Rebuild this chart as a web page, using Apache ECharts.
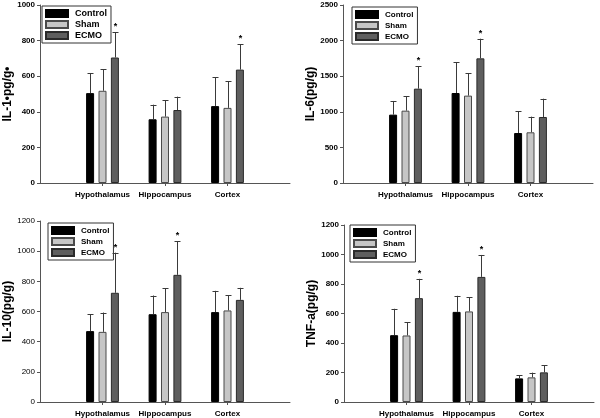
<!DOCTYPE html>
<html>
<head>
<meta charset="utf-8">
<script src="https://cdn.jsdelivr.net/npm/echarts@6/dist/echarts.min.js"></script>
<style>html,body{margin:0;padding:0;background:#fff}#c{width:600px;height:418px}</style>
</head>
<body>
<div id="c"></div>
<script>
// ---- data ----
const categories = ['', 'Hypothalamus', 'Hippocampus', 'Cortex', ''];
const groups = ['Control', 'Sham', 'ECMO'];

// IL-1
const il1Control = [505, 358, 432];
const il1ControlUpper = [618, 440, 595];
const il1Sham = [518, 373, 422];
const il1ShamUpper = [640, 465, 573];
const il1Ecmo = [705, 410, 637];
const il1EcmoUpper = [848, 485, 780];
const il1EcmoSig = [1, 0, 1];

// IL-6
const il6Control = [960, 1264, 702];
const il6ControlUpper = [1152, 1695, 1007];
const il6Sham = [1016, 1227, 712];
const il6ShamUpper = [1217, 1545, 932];
const il6Ecmo = [1325, 1751, 927];
const il6EcmoUpper = [1643, 2027, 1184];
const il6EcmoSig = [1, 1, 0];

// IL-10
const il10Control = [470, 582, 596];
const il10ControlUpper = [582, 706, 737];
const il10Sham = [465, 596, 607];
const il10ShamUpper = [593, 754, 708];
const il10Ecmo = [724, 843, 677];
const il10EcmoUpper = [990, 1065, 757];
const il10EcmoSig = [1, 1, 0];

// TNF-a
const tnfControl = [453, 611, 160];
const tnfControlUpper = [632, 720, 180];
const tnfSham = [451, 614, 167];
const tnfShamUpper = [539, 711, 199];
const tnfEcmo = [704, 848, 201];
const tnfEcmoUpper = [835, 997, 250];
const tnfEcmoSig = [1, 1, 0];

const yTitles = ['IL-1\u2022pg/g\u2022', 'IL-6(pg/g)', 'IL-10(pg/g)', 'TNF-a(pg/g)'];
const yMax = [1000, 2500, 1200, 1200];
const yInterval = [200, 500, 200, 200];

const panels = [
  {c: il1Control, cu: il1ControlUpper, s: il1Sham, su: il1ShamUpper, e: il1Ecmo, eu: il1EcmoUpper, sig: il1EcmoSig},
  {c: il6Control, cu: il6ControlUpper, s: il6Sham, su: il6ShamUpper, e: il6Ecmo, eu: il6EcmoUpper, sig: il6EcmoSig},
  {c: il10Control, cu: il10ControlUpper, s: il10Sham, su: il10ShamUpper, e: il10Ecmo, eu: il10EcmoUpper, sig: il10EcmoSig},
  {c: tnfControl, cu: tnfControlUpper, s: tnfSham, su: tnfShamUpper, e: tnfEcmo, eu: tnfEcmoUpper, sig: tnfEcmoSig}
];

// ---- layout / style ----
const FONT = 'Liberation Sans, Arial, sans-serif';
const gridPos = [
  {left: 40, top: 5, width: 250, height: 178},
  {left: 343, top: 5, width: 250, height: 178},
  {left: 40, top: 221, width: 250, height: 181},
  {left: 344, top: 225, width: 250, height: 177}
];
const legendPos = [
  {left: 42, top: 6},
  {left: 352, top: 7},
  {left: 48, top: 223},
  {left: 350, top: 225}
];
const nameGaps = [25, 26, 26, 24];
const tickBold = ['bold', 'bold', 'normal', 'bold'];
const BAR_W = 8;
const BAR_GAP = 0.55;
const styles = [
  {color: '#000000', borderColor: '#000000', borderWidth: 1},
  {color: '#c6c6c6', borderColor: '#4a4a4a', borderWidth: 1},
  {color: '#5e5e5e', borderColor: '#2a2a2a', borderWidth: 1}
];

function pad(arr) { return [null].concat(arr).concat([null]); }

const option = {
  animation: false,
  backgroundColor: '#fff',
  grid: gridPos.map(g => Object.assign({containLabel: false}, g)),
  legend: legendPos.map((p, i) => ({
    left: p.left, top: p.top, orient: 'vertical',
    data: groups.map(n => ({name: n, icon: 'rect'})),
    itemWidth: 22, itemHeight: 7, itemGap: 2,
    borderColor: '#333', borderWidth: 1, padding: [3, 4, 3, 3],
    selectedMode: false,
    textStyle: {fontFamily: FONT, fontWeight: 'bold', fontSize: i === 0 ? 9 : 8, color: '#000', padding: [0, 0, 0, 2]}
  })),
  xAxis: gridPos.map((g, i) => ({
    gridIndex: i, type: 'category', data: categories, boundaryGap: false,
    axisLine: {lineStyle: {color: '#555', width: 1}},
    axisTick: {show: true, length: 3, interval: (idx) => idx >= 1 && idx <= 3, lineStyle: {color: '#555'}},
    axisLabel: {interval: 0, margin: 8, fontFamily: FONT, fontWeight: 'bold', fontSize: 8, color: '#000'},
    splitLine: {show: false}
  })),
  yAxis: gridPos.map((g, i) => ({
    gridIndex: i, type: 'value', min: 0, max: yMax[i], interval: yInterval[i],
    name: yTitles[i], nameLocation: 'middle', nameGap: nameGaps[i], nameRotate: 90,
    nameTextStyle: {fontFamily: FONT, fontWeight: 'bold', fontSize: 12, color: '#000'},
    axisLine: {show: true, lineStyle: {color: '#555', width: 1}},
    axisTick: {show: true, length: 3, lineStyle: {color: '#555'}},
    axisLabel: {margin: 5, fontFamily: FONT, fontWeight: tickBold[i], fontSize: 8, color: '#000',
      formatter: (v) => String(v)},
    splitLine: {show: false}
  })),
  series: []
};

function errorSeries(gi, si, means, uppers, sig) {
  const data = means.map((m, k) => [k + 1, m, uppers[k], sig ? sig[k] : 0]);
  return {
    type: 'custom', xAxisIndex: gi, yAxisIndex: gi, z: 5, silent: true,
    data: data,
    renderItem: function (params, api) {
      const x = api.value(0), m = api.value(1), up = api.value(2), s = api.value(3);
      const p0 = api.coord([x, m]);
      const p1 = api.coord([x, up]);
      const off = (si - 1) * BAR_W * (1 + BAR_GAP);
      const cx = Math.round(p0[0] + off) + 0.5;
      const ls = {stroke: '#3a3a3a', lineWidth: 1};
      const children = [
        {type: 'line', shape: {x1: cx, y1: p0[1], x2: cx, y2: p1[1]}, style: ls},
        {type: 'line', shape: {x1: cx - 3, y1: Math.round(p1[1]) + 0.5, x2: cx + 3, y2: Math.round(p1[1]) + 0.5}, style: ls}
      ];
      if (s) {
        children.push({type: 'text', style: {text: '*', x: cx, y: p1[1] - 1, align: 'center', verticalAlign: 'bottom',
          font: 'bold 9px ' + FONT, fill: '#000'}});
      }
      return {type: 'group', children: children};
    }
  };
}

panels.forEach((p, gi) => {
  const vals = [p.c, p.s, p.e];
  const ups = [p.cu, p.su, p.eu];
  vals.forEach((v, si) => {
    option.series.push({
      name: groups[si], type: 'bar', xAxisIndex: gi, yAxisIndex: gi,
      data: pad(v), barWidth: BAR_W, barGap: (BAR_GAP * 100) + '%',
      itemStyle: styles[si], silent: true
    });
  });
  vals.forEach((v, si) => {
    option.series.push(errorSeries(gi, si, v, ups[si], si === 2 ? p.sig : null));
  });
});

const chart = echarts.init(document.getElementById('c'), null, {renderer: 'canvas'});
chart.setOption(option);
</script>
</body>
</html>
